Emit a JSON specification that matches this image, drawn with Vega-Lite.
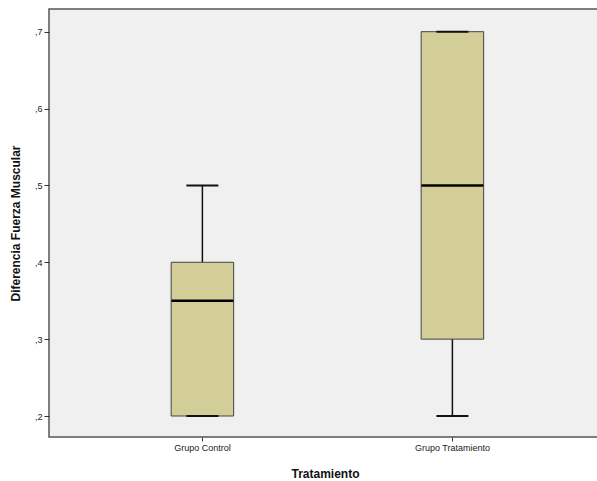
{
  "$schema": "https://vega.github.io/schema/vega-lite/v6.json",
  "width": 552,
  "height": 428,
  "autosize": {"type": "none"},
  "padding": {"left": 49, "top": 9, "right": 0, "bottom": 44},
  "background": "white",
  "config": {
    "font": "Liberation Sans",
    "view": {"fill": "#f0f0f0", "stroke": "#555555", "strokeWidth": 1.5}
  },
  "data": {
    "values": [
      {"grupo": "Grupo Control", "min": 0.2, "q1": 0.2, "median": 0.35, "q3": 0.4, "max": 0.5},
      {"grupo": "Grupo Tratamiento", "min": 0.2, "q1": 0.3, "median": 0.5, "q3": 0.7, "max": 0.7}
    ]
  },
  "encoding": {
    "x": {
      "field": "grupo",
      "type": "nominal",
      "scale": {"paddingInner": 0.75, "paddingOuter": 0.479, "align": 0.51},
      "axis": {
        "title": "Tratamiento",
        "titleFontSize": 12,
        "titleFontWeight": "bold",
        "titleColor": "#111111",
        "titlePadding": 16,
        "labelAngle": 0,
        "labelFontSize": 9,
        "labelColor": "#222222",
        "labelPadding": 2,
        "tickSize": 4,
        "tickColor": "#333333",
        "domain": false
      }
    }
  },
  "layer": [
    {
      "mark": {"type": "rule", "color": "#111111", "strokeWidth": 1.5, "opacity": 1},
      "encoding": {
        "y": {
          "field": "min",
          "type": "quantitative",
          "scale": {"domain": [0.1727, 0.7295], "nice": false, "zero": false},
          "axis": {
            "title": "Diferencia Fuerza Muscular",
            "titleFontSize": 12,
            "titleFontWeight": "bold",
            "titleColor": "#111111",
            "titlePadding": 12,
            "values": [0.2, 0.3, 0.4, 0.5, 0.6, 0.7],
            "labelExpr": "replace(format(datum.value, '.1f'), '0.', ',')",
            "labelFontSize": 9,
            "labelColor": "#222222",
            "labelPadding": 2,
            "tickSize": 5,
            "tickColor": "#333333",
            "grid": false,
            "domain": false
          }
        },
        "y2": {"field": "max"}
      }
    },
    {
      "mark": {"type": "bar", "fill": "#d3ce97", "stroke": "#444444", "strokeWidth": 1, "opacity": 1},
      "encoding": {
        "y": {"field": "q1", "type": "quantitative"},
        "y2": {"field": "q3"}
      }
    },
    {
      "mark": {"type": "tick", "color": "#000000", "thickness": 2.5, "size": 62, "opacity": 1},
      "encoding": {"y": {"field": "median", "type": "quantitative"}}
    },
    {
      "mark": {"type": "tick", "color": "#111111", "thickness": 2, "size": 32, "opacity": 1},
      "encoding": {"y": {"field": "max", "type": "quantitative"}}
    },
    {
      "mark": {"type": "tick", "color": "#111111", "thickness": 2, "size": 32, "opacity": 1},
      "encoding": {"y": {"field": "min", "type": "quantitative"}}
    }
  ]
}
